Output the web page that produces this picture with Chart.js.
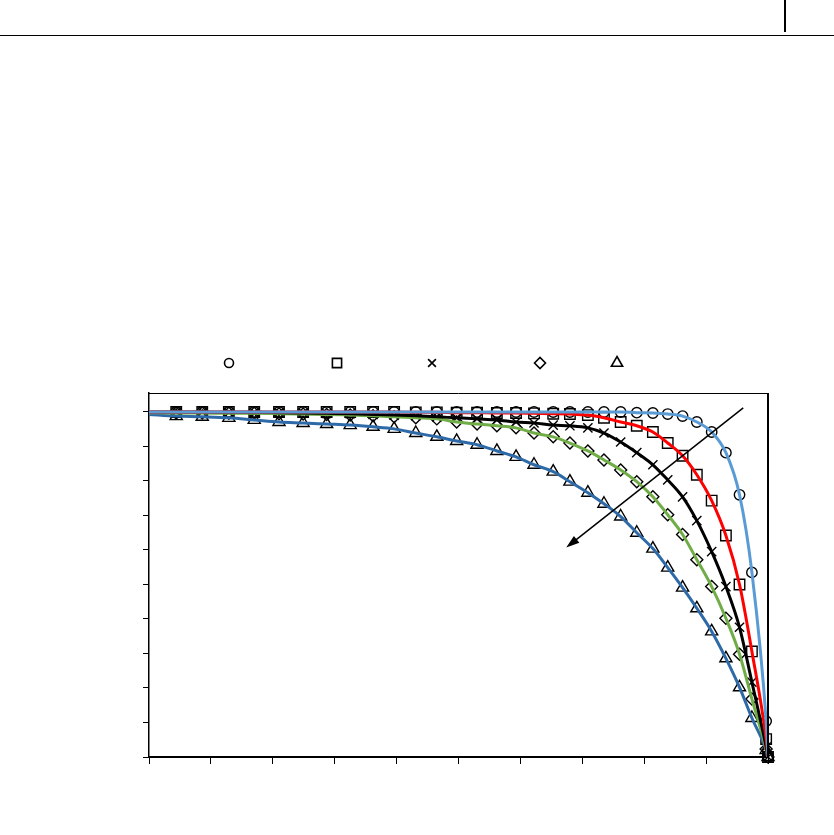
<!DOCTYPE html>
<html>
<head>
<meta charset="utf-8">
<script src="https://cdn.jsdelivr.net/npm/chart.js@4.4.1/dist/chart.umd.min.js"></script>
<style>
  body { margin: 0; background: #fff; }
  .wrap { position: relative; width: 834px; height: 835px; }
  .hline { position: absolute; left: 0; top: 35px; width: 834px; height: 1px; background: #000; }
  .vline { position: absolute; left: 784px; top: 0; width: 2px; height: 32px; background: #000; }
</style>
</head>
<body>
<div class="wrap">
  <canvas id="myChart" width="834" height="835"></canvas>
  <div class="hline"></div>
  <div class="vline"></div>
</div>
<script>
// x positions shared by all series (marker points)
var xGrid = [0.044, 0.086, 0.129, 0.170, 0.210, 0.249, 0.287, 0.325, 0.362, 0.396, 0.431,
    0.465, 0.497, 0.530, 0.562, 0.593, 0.622, 0.653, 0.680, 0.709, 0.735, 0.762,
    0.788, 0.814, 0.838, 0.862, 0.885, 0.909, 0.932, 0.954, 0.974, 0.997, 1.0];

var circleY = [1, 1, 1, 1, 1, 1, 1, 1, 1, 1, 1, 1, 1, 1, 1, 1, 1, 1,
    1, 1, 1, 1, 0.998, 0.997, 0.994, 0.988, 0.971, 0.942, 0.882, 0.760, 0.535, 0.104, 0];
var squareY = [1, 1, 1, 1, 1, 1, 1, 1, 1, 1, 0.999, 0.999, 0.998, 0.998, 0.997, 0.997, 0.996, 0.995,
    0.994, 0.991, 0.983, 0.971, 0.960, 0.942, 0.910, 0.873, 0.818, 0.743, 0.642, 0.500, 0.306, 0.052, 0];
var crossY = [1, 1, 0.999, 0.999, 0.998, 0.997, 0.996, 0.995, 0.993, 0.991, 0.989, 0.986,
    0.983, 0.980, 0.977, 0.971, 0.968, 0.962, 0.960, 0.954, 0.939, 0.913, 0.882, 0.847, 0.803,
    0.754, 0.685, 0.595, 0.494, 0.376, 0.217, 0.029, 0];
var diamondY = [0.997, 0.997, 0.996, 0.996, 0.995, 0.994, 0.993, 0.991, 0.989, 0.986, 0.983, 0.980,
    0.971, 0.965, 0.960, 0.954, 0.939, 0.928, 0.910, 0.887, 0.861, 0.832, 0.798, 0.754, 0.702,
    0.645, 0.572, 0.494, 0.402, 0.298, 0.168, 0.023, 0];
var triangleY = [0.988, 0.986, 0.983, 0.977, 0.971, 0.968, 0.965, 0.962, 0.957, 0.951, 0.939, 0.928,
    0.916, 0.905, 0.887, 0.870, 0.847, 0.827, 0.798, 0.766, 0.734, 0.697, 0.650, 0.604, 0.549,
    0.491, 0.431, 0.364, 0.286, 0.202, 0.113, 0.020, 0];

// value of each curve at x = 0
var lineStart = [1, 1, 1, 0.998, 0.993];

var seriesY = [circleY, squareY, crossY, diamondY, triangleY];
var lineColors = ["#5b9bd5", "#ff0000", "#000000", "#70ad47", "#2e6aa8"];
var markerStyles = ["circle", "rect", "crossRot", "rectRot", "triangle"];
var markerSizes = [5.2, 7.4, 6.5, 6, 7];

// arrow from upper right to lower left, in data units
var arrowFrom = { x: 0.96, y: 1.012 };
var arrowTo = { x: 0.674, y: 0.607 };

function pts(ys, start) {
    var out = [];
    if (start !== undefined) out.push({ x: 0, y: start });
    for (var i = 0; i < xGrid.length; i++) out.push({ x: xGrid[i], y: ys[i] });
    return out;
}

var datasets = [];
for (var i = 0; i < seriesY.length; i++) {
    datasets.push({
        label: "line" + i,
        data: pts(seriesY[i], lineStart[i]),
        showLine: true,
        borderColor: lineColors[i],
        borderWidth: 3,
        pointRadius: 0,
        cubicInterpolationMode: "monotone",
        order: 1
    });
}
for (var j = 0; j < seriesY.length; j++) {
    datasets.push({
        label: "marker" + j,
        data: pts(seriesY[j]),
        showLine: false,
        pointStyle: markerStyles[j],
        pointRadius: markerSizes[j],
        pointBorderColor: "#000",
        pointBackgroundColor: "rgba(0,0,0,0)",
        pointBorderWidth: 1.4,
        clip: false,
        order: 2
    });
}

// frame, arrow and the marker-only legend
var extras = {
    id: "extras",
    afterDatasetsDraw: function(chart) {
        var c = chart.ctx, a = chart.chartArea;
        var xs = chart.scales.x, ys = chart.scales.y;
        c.save();
        c.strokeStyle = "#000";
        c.lineWidth = 1;
        c.beginPath();
        c.moveTo(a.left, a.top + 0.5);
        c.lineTo(a.right, a.top + 0.5);
        c.stroke();
        c.lineWidth = 2;
        c.beginPath();
        c.moveTo(a.right, a.top);
        c.lineTo(a.right, a.bottom);
        c.stroke();

        var x1 = xs.getPixelForValue(arrowFrom.x), y1 = ys.getPixelForValue(arrowFrom.y);
        var x2 = xs.getPixelForValue(arrowTo.x), y2 = ys.getPixelForValue(arrowTo.y);
        var ang = Math.atan2(y2 - y1, x2 - x1);
        c.lineWidth = 1.5;
        c.beginPath();
        c.moveTo(x1, y1);
        c.lineTo(x2 - 8 * Math.cos(ang), y2 - 8 * Math.sin(ang));
        c.stroke();
        c.fillStyle = "#000";
        c.beginPath();
        c.moveTo(x2, y2);
        c.lineTo(x2 - 14 * Math.cos(ang - 0.32), y2 - 14 * Math.sin(ang - 0.32));
        c.lineTo(x2 - 14 * Math.cos(ang + 0.32), y2 - 14 * Math.sin(ang + 0.32));
        c.closePath();
        c.fill();

        var legendX = [229, 337, 432, 540, 617];
        var legendR = [4.5, 6.5, 5.5, 5.5, 6.5];
        c.fillStyle = "#fff";
        c.strokeStyle = "#000";
        c.lineWidth = 1.6;
        for (var k = 0; k < legendX.length; k++) {
            Chart.helpers.drawPoint(c, {
                pointStyle: markerStyles[k],
                radius: legendR[k],
                borderWidth: 1.6,
                rotation: 0
            }, legendX[k], 363);
        }
        c.restore();
    }
};

const ctx = document.getElementById("myChart").getContext("2d");

var myjson = {
    type: "scatter",
    data: { datasets: datasets },
    options: {
        responsive: false,
        animation: false,
        layout: { padding: { left: 143, top: 393, right: 66, bottom: 71 } },
        plugins: { legend: { display: false }, tooltip: { enabled: false } },
        scales: {
            x: {
                type: "linear",
                min: 0,
                max: 1,
                ticks: { stepSize: 0.1, display: false },
                grid: { drawOnChartArea: false, drawTicks: true, tickLength: 7, color: "#000", lineWidth: 1 },
                border: { color: "#000", width: 2 }
            },
            y: {
                type: "linear",
                min: 0,
                max: 1.055,
                afterBuildTicks: function(scale) {
                    scale.ticks = scale.ticks.filter(function(t) { return t.value <= 1.0001; });
                },
                ticks: { stepSize: 0.1, display: false },
                grid: { drawOnChartArea: false, drawTicks: true, tickLength: 6, color: "#000", lineWidth: 1 },
                border: { color: "#000", width: 1.5 }
            }
        }
    },
    plugins: [extras]
};

const myChart = new Chart(ctx, myjson);
</script>
</body>
</html>
